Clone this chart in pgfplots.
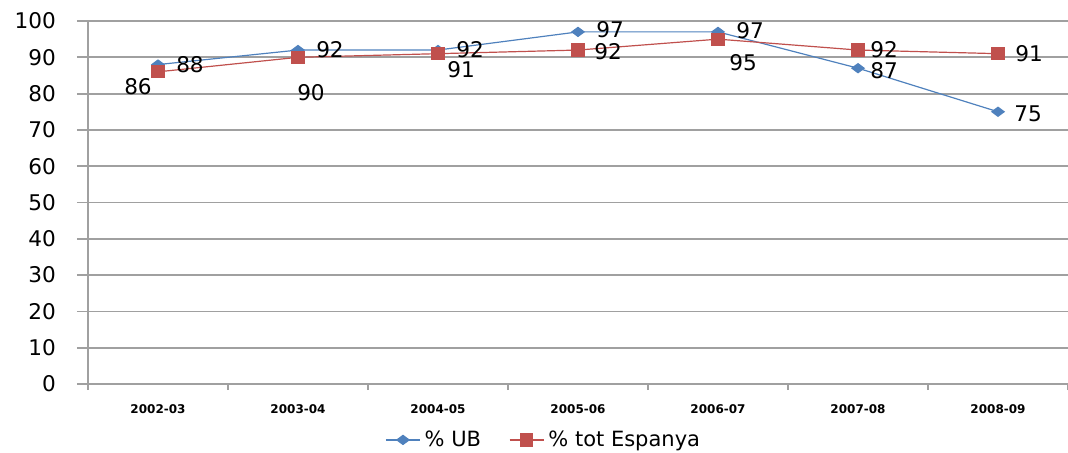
\documentclass[border=0pt]{standalone}
\usepackage{pgfplots}
\pgfplotsset{compat=1.18}
\usepackage{pgfplotstable}
\usepackage{fontspec}
\setmainfont{DejaVu Sans}
\definecolor{ubblue}{HTML}{4F81BD}
\definecolor{esred}{HTML}{C0504D}
\definecolor{gridgray}{HTML}{A0A0A0}

\pgfplotstableread{
x y dx dy
0 88 16 0
1 92 16 0
2 92 16 0
3 97 16 1
4 97 16 0.5
5 87 13 -1
6 75 15 -1
}\ubdata
\pgfplotstableread{
x y dx dy
0 86 -10 -7.5
1 90 6.5 -17.5
2 91 11.5 -8
3 92 15 -0.8
4 95 12.5 -11.5
5 92 13 0
6 91 15.5 0
}\esdata

\begin{document}
\begin{tikzpicture}
\begin{axis}[
  scale only axis, width=490pt, height=181.5pt,
  xmin=-0.5, xmax=6.5, ymin=0, ymax=100,
  axis x line*=bottom, axis y line*=left,
  axis line style={gridgray, line width=0.9pt},
  ytick={0,10,...,100},
  ymajorgrids, grid style={gridgray, line width=0.9pt},
  xtick={0,...,6},
  xticklabels={2002-03,2003-04,2004-05,2005-06,2006-07,2007-08,2008-09},
  major x tick style={draw=none},
  minor xtick={-0.5,0.5,...,6.5},
  minor x tick style={gridgray, line width=0.9pt},
  y tick style={gridgray, line width=0.9pt},
  tick align=outside,
  major tick length=5.5pt, minor tick length=3pt,
  xticklabel style={font=\bfseries\fontsize{6}{7}\selectfont, yshift=-1.5pt},
  yticklabel style={font=\fontsize{10.8}{12}\selectfont, xshift=-7pt},
  /pgf/number format/assume math mode=true,
  legend columns=2,
  legend style={draw=none, at={(0.466,-0.154)}, anchor=center,
    font=\fontsize{10.5}{12}\selectfont,
    /tikz/every even column/.append style={column sep=12pt}},
  clip=false,
  nodes near coords,
  visualization depends on={\thisrow{dx} \as \dx},
  visualization depends on={\thisrow{dy} \as \dy},
  every node near coord/.append style={anchor=center, xshift=\dx pt, yshift=\dy pt,
    font=\fontsize{10.8}{12}\selectfont, text=black, inner sep=0pt},
]
\addplot[ubblue, line width=0.6pt, mark=diamond*, mark size=3pt,
  mark options={solid, fill=ubblue, xscale=1.35, yscale=0.75}] table[x=x,y=y] {\ubdata};
\addlegendentry{\% UB}
\addplot[esred, line width=0.6pt, mark=square*, mark size=3pt,
  mark options={solid, fill=esred}] table[x=x,y=y] {\esdata};
\addlegendentry{\% tot Espanya}
\end{axis}
\pgfresetboundingbox
\useasboundingbox (-44pt,-34pt) rectangle (490pt,192pt);
\end{tikzpicture}
\end{document}
